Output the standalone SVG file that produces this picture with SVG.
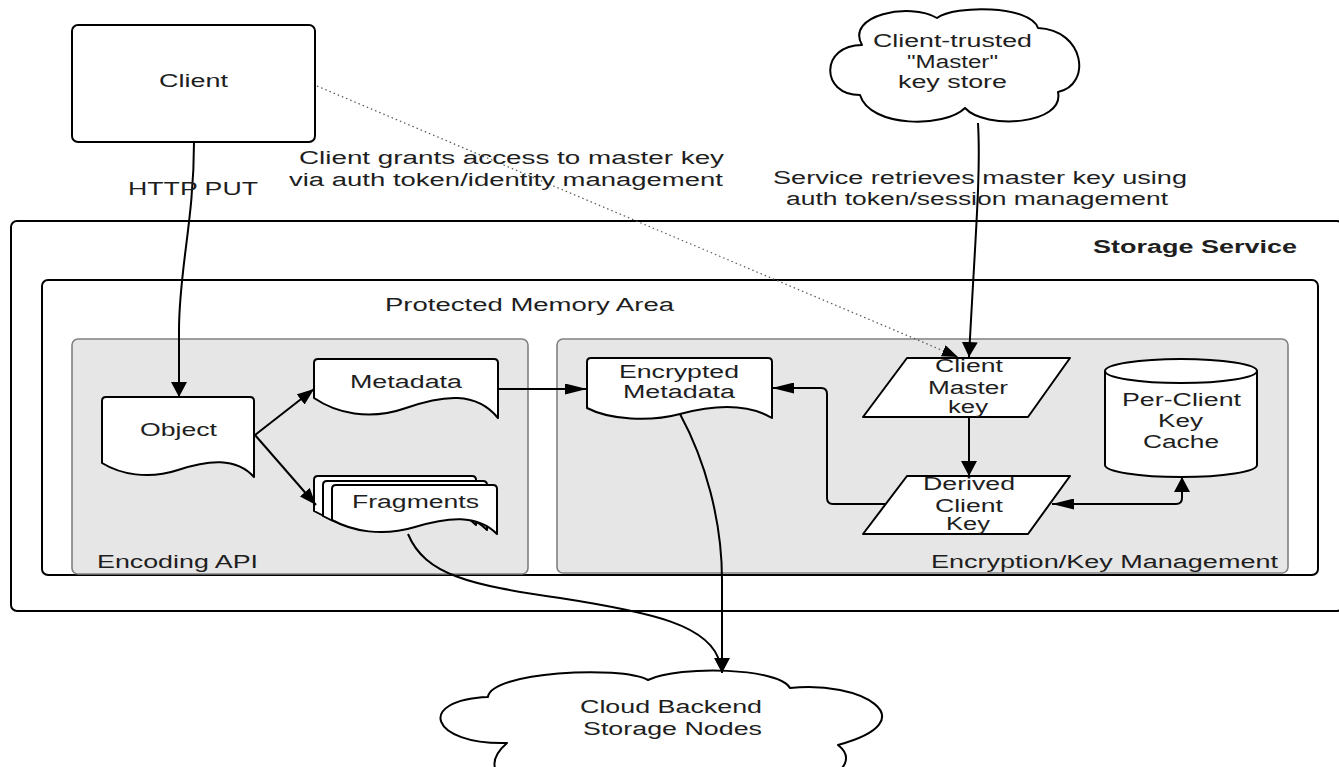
<svg xmlns="http://www.w3.org/2000/svg" width="1339" height="767" viewBox="0 0 1339 767">
<style>
.t{font-family:"Liberation Sans",Arial,sans-serif;font-size:18px;fill:#1e1e1e}
.b{font-weight:bold}
.box{fill:#fff;stroke:#000;stroke-width:2}
.grp{fill:#e6e6e6;stroke:#808080;stroke-width:1.6}
.shape{fill:#fff;stroke:#000;stroke-width:2;stroke-linejoin:round}
.c{fill:none;stroke:#000;stroke-width:2}
.dot{fill:none;stroke:#555;stroke-width:1.2;stroke-dasharray:1.5 3}
</style>
<defs>
<marker id="av" markerUnits="userSpaceOnUse" markerWidth="15" markerHeight="16" refX="15" refY="8" orient="auto" viewBox="0 0 15 16"><path d="M0,0 L15,8 L0,16 z" fill="#000"/></marker>
<marker id="ah" markerUnits="userSpaceOnUse" markerWidth="22" markerHeight="11" refX="22" refY="5.5" orient="auto" viewBox="0 0 22 11"><path d="M0,0 L22,5.5 L0,11 z" fill="#000"/></marker>
<marker id="ahs" markerUnits="userSpaceOnUse" markerWidth="22" markerHeight="11" refX="22" refY="5.5" orient="auto-start-reverse" viewBox="0 0 22 11"><path d="M0,0 L22,5.5 L0,11 z" fill="#000"/></marker>
<marker id="ad" markerUnits="userSpaceOnUse" markerWidth="17" markerHeight="13" refX="17" refY="6.5" orient="auto" viewBox="0 0 17 13"><path d="M0,0 L17,6.5 L0,13 z" fill="#000"/></marker>
<marker id="adot" markerUnits="userSpaceOnUse" markerWidth="16" markerHeight="12" refX="16" refY="6" orient="auto" viewBox="0 0 16 12"><path d="M0,0 L16,6 L0,12 z" fill="#000"/></marker>
</defs>

<g id="storage-service">
<rect class="box" x="11" y="221" width="1332" height="390" rx="6"/>
<text class="t b" x="1093" y="253" textLength="204" lengthAdjust="spacingAndGlyphs">Storage Service</text>
</g>
<g id="protected-memory">
<rect class="box" x="42" y="280" width="1276" height="295" rx="6"/>
<text class="t" x="385" y="311" textLength="289" lengthAdjust="spacingAndGlyphs">Protected Memory Area</text>
</g>
<g id="encoding-api">
<rect class="grp" x="72" y="339" width="456" height="235" rx="6"/>
<text class="t" x="97" y="568" textLength="161" lengthAdjust="spacingAndGlyphs">Encoding API</text>
</g>
<g id="encryption-key-management">
<rect class="grp" x="557" y="339" width="731" height="234" rx="6"/>
<text class="t" x="931" y="568" textLength="347" lengthAdjust="spacingAndGlyphs">Encryption/Key Management</text>
</g>

<g id="client">
<rect class="box" x="72" y="25" width="243" height="117" rx="6"/>
<text class="t" x="159" y="87" textLength="69" lengthAdjust="spacingAndGlyphs">Client</text>
</g>

<g id="master-key-store">
<path class="shape" d="M862,45 C845,15 910,2 937,18 C955,5 1030,5 1038,28 C1085,30 1092,85 1058,92 C1065,125 985,130 965,108 C945,128 870,128 860,95 C820,95 820,45 862,45 Z"/>
<text class="t" x="873" y="47" textLength="159" lengthAdjust="spacingAndGlyphs">Client-trusted</text>
<text class="t" x="907" y="68" textLength="91" lengthAdjust="spacingAndGlyphs">"Master"</text>
<text class="t" x="898" y="88" textLength="109" lengthAdjust="spacingAndGlyphs">key store</text>
</g>

<g id="cloud-backend">
<path class="shape" d="M488,697 C490,672 620,665 648,680 C680,665 780,668 790,688 C860,680 930,720 838,745 C870,770 800,800 740,790 C700,805 620,805 590,790 C520,800 470,775 507,743 C430,745 415,700 488,697 Z"/>
<text class="t" x="580" y="713" textLength="182" lengthAdjust="spacingAndGlyphs">Cloud Backend</text>
<text class="t" x="583" y="735" textLength="179" lengthAdjust="spacingAndGlyphs">Storage Nodes</text>
</g>

<g id="object">
<path class="shape" d="M102,463 C120,474 148,480 178,470 S236,457 254,477 V401 Q254,397 250,397 H106 Q102,397 102,401 Z"/>
<text class="t" x="140" y="436" textLength="77" lengthAdjust="spacingAndGlyphs">Object</text>
</g>

<g id="metadata">
<path class="shape" d="M314,398 C336,413 369,421 406,408 S476,391 498,418 V363 Q498,359 494,359 H318 Q314,359 314,363 Z"/>
<text class="t" x="350" y="388" textLength="112" lengthAdjust="spacingAndGlyphs">Metadata</text>
</g>

<g id="fragments">
<path class="shape" d="M314,511 C333,522 362,528 395,518 S456,505 476,525 V480 Q476,476 472,476 H318 Q314,476 314,480 Z"/>
<path class="shape" d="M323,516 C342,527 372,533 405,523 S467,510 487,530 V485 Q487,481 483,481 H327 Q323,481 323,485 Z"/>
<path class="shape" d="M332,520 C352,531 382,537 415,527 S477,514 497,534 V489 Q497,485 493,485 H336 Q332,485 332,489 Z"/>
<text class="t" x="352" y="508" textLength="127" lengthAdjust="spacingAndGlyphs">Fragments</text>
</g>

<g id="encrypted-metadata">
<path class="shape" d="M587,408 C610,420 650,422 680,414 S745,402 772,418 V362 Q772,358 768,358 H591 Q587,358 587,362 Z"/>
<text class="t" x="619" y="378" textLength="120" lengthAdjust="spacingAndGlyphs">Encrypted</text>
<text class="t" x="623" y="398" textLength="112" lengthAdjust="spacingAndGlyphs">Metadata</text>
</g>

<g id="client-master-key">
<polygon class="shape" points="907,358 1070,358 1028,417 863,417"/>
<text class="t" x="935" y="372" textLength="68" lengthAdjust="spacingAndGlyphs">Client</text>
<text class="t" x="928" y="394" textLength="80" lengthAdjust="spacingAndGlyphs">Master</text>
<text class="t" x="948" y="413" textLength="40" lengthAdjust="spacingAndGlyphs">key</text>
</g>

<g id="derived-client-key">
<polygon class="shape" points="907,476 1070,476 1028,534 863,534"/>
<text class="t" x="923" y="490" textLength="92" lengthAdjust="spacingAndGlyphs">Derived</text>
<text class="t" x="935" y="512" textLength="68" lengthAdjust="spacingAndGlyphs">Client</text>
<text class="t" x="946" y="530" textLength="44" lengthAdjust="spacingAndGlyphs">Key</text>
</g>

<g id="key-cache">
<path class="shape" d="M1105,371 A76,12 0 0 1 1257,371 V465 A76,12 0 0 1 1105,465 Z"/>
<path class="c" d="M1105,371 A76,12 0 0 0 1257,371"/>
<text class="t" x="1122" y="406" textLength="119" lengthAdjust="spacingAndGlyphs">Per-Client</text>
<text class="t" x="1158" y="427" textLength="45" lengthAdjust="spacingAndGlyphs">Key</text>
<text class="t" x="1143" y="448" textLength="76" lengthAdjust="spacingAndGlyphs">Cache</text>
</g>

<g id="connectors">
<path class="c" d="M194,142 C194,220 179,270 179,330 L179,397" marker-end="url(#av)"/>
<path class="dot" d="M317,86 L958,357" marker-end="url(#adot)"/>
<path class="c" d="M978,123 C981,175 975,240 969,357" marker-end="url(#av)"/>
<path class="c" d="M969,417 L969,476" marker-end="url(#av)"/>
<path class="c" d="M255,435 L314,389" marker-end="url(#ad)"/>
<path class="c" d="M255,435 L316,505" marker-end="url(#ad)"/>
<path class="c" d="M498,389 L587,389" marker-end="url(#ah)"/>
<path class="c" d="M885,504 H833 Q827,504 827,498 V394 Q827,388 821,388 H772" marker-end="url(#ah)"/>
<path class="c" d="M1052,504 H1176 Q1182,504 1182,498 V477" marker-start="url(#ahs)" marker-end="url(#av)"/>
<path class="c" d="M680,414 C705,460 722,520 722,580 L722,673" marker-end="url(#av)"/>
<path class="c" d="M408,534 C425,575 470,585 560,598 C650,612 712,625 720,664"/>
</g>

<g id="labels">
<text class="t" x="128" y="195" textLength="130" lengthAdjust="spacingAndGlyphs">HTTP PUT</text>
<text class="t" x="299" y="164" textLength="425" lengthAdjust="spacingAndGlyphs">Client grants access to master key</text>
<text class="t" x="289" y="186" textLength="434" lengthAdjust="spacingAndGlyphs">via auth token/identity management</text>
<text class="t" x="773" y="184" textLength="414" lengthAdjust="spacingAndGlyphs">Service retrieves master key using</text>
<text class="t" x="786" y="205" textLength="382" lengthAdjust="spacingAndGlyphs">auth token/session management</text>
</g>
</svg>
